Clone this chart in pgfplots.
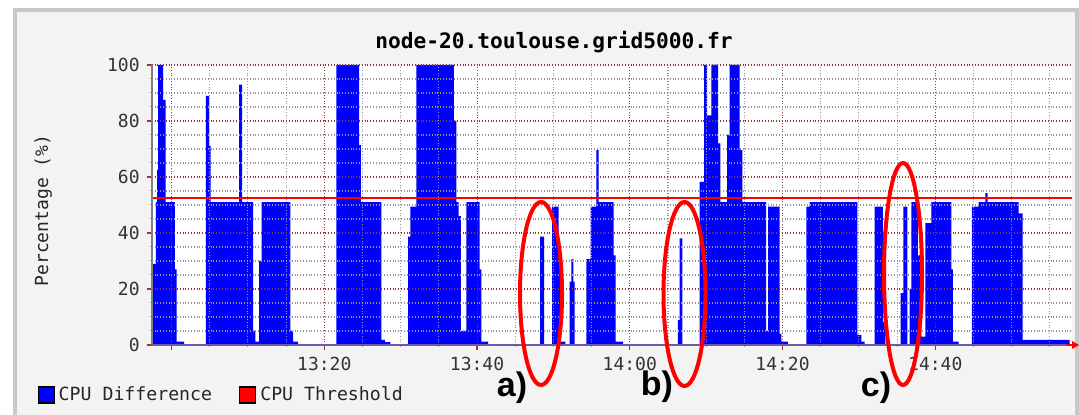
\documentclass[border=0pt]{standalone}
\usepackage{pgfplots}
\usepackage{pgfplotstable}
\pgfplotsset{compat=1.18}
\usepackage{fontspec}
\setmainfont{Liberation Sans}
\setmonofont{DejaVu Sans Mono}
\definecolor{bgframe}{RGB}{243,243,243}
\definecolor{frameline}{RGB}{200,200,200}
\definecolor{mgrid}{RGB}{150,55,55}
\definecolor{ngrid}{RGB}{150,150,150}
\definecolor{cpublue}{RGB}{0,0,255}
\definecolor{cpured}{RGB}{255,0,0}
\definecolor{xaxisc}{RGB}{110,90,170}

% minutes after 13:00, CPU difference (%)
\pgfplotstableread{
t v
-2.6 0
-2.53 29
-2.05 51
-1.88 62.5
-1.75 100
-1.10 87.5
-0.79 51
0.43 27
0.65 1.2
1.65 0
4.49 89
4.93 71
5.10 51
8.85 93
9.25 51
10.69 5
10.99 1.2
11.47 30
11.78 51
15.57 5
15.92 1.2
16.57 0
21.59 100
24.56 71.4
24.78 51
27.48 1.8
27.92 1
28.66 0
30.97 38.7
31.28 49.4
32.06 100
36.95 80
37.30 51
37.60 46
37.87 5
38.61 51
40.35 27
40.57 1.2
41.44 0
48.25 38.7
48.77 0
49.82 49.4
50.69 34.5
50.96 1.2
51.57 0
52.13 22.6
52.35 30.7
52.61 22.6
52.79 0
54.31 30.7
54.88 49.4
55.62 69.6
55.93 51
57.89 32
58.15 1.2
59.11 0
66.31 8.9
66.53 38.1
66.88 0
69.15 58.3
69.72 100
70.11 82
70.68 100
71.55 72
71.86 51
72.73 75
73.08 100
74.39 69.6
74.73 51
77.85 5
78.10 49.4
79.62 4
79.84 1.2
80.71 0
83.11 49.4
83.55 51
89.79 3.6
90.31 1.2
90.75 0
92.05 49.4
93.14 8.3
93.45 0
95.46 18.5
95.81 49.4
96.34 0
96.64 20
96.86 51
97.72 32
98.17 3
98.69 43.5
99.47 51
102.09 27
102.31 1.2
103.05 0
104.79 49.4
105.67 51
106.54 54.2
106.85 51
110.90 47
111.43 1.8
117.6 0
117.9 0
}\cpudiff

\pgfplotstableread{
t v
-2.6 52.5
117.9 52.5
}\cputhr

\begin{document}
\begin{tikzpicture}
\begin{scope}[x=0.5pt,y=0.5pt]
\useasboundingbox (0,0) rectangle (1079,415);
\fill[white] (0,0) rectangle (1079,415);
\fill[bgframe] (15,0) rectangle (1077,405);
\draw[frameline, line width=2pt] (15,-5) -- (15,405) -- (1077,405) -- (1077,-5);
\end{scope}
\begin{axis}[
  at={(75.85pt,35pt)}, anchor=south west,
  width=460.15pt, height=140pt, scale only axis,
  xmin=-2.6, xmax=117.9, ymin=0, ymax=100,
  axis on top,
  axis background/.style={fill=white},
  grid=both,
  major grid style={mgrid, densely dotted, line width=0.55pt},
  minor grid style={ngrid, densely dotted, line width=0.55pt},
  xtick={0,20,40,60,80,100},
  xticklabels={,13:20,13:40,14:00,14:20,14:40},
  minor xtick={5,10,15,25,30,35,45,50,55,65,70,75,85,90,95,105,110,115},
  ytick={0,20,40,60,80,100},
  minor ytick={5,10,15,25,30,35,45,50,55,65,70,75,85,90,95},
  tick align=outside,
  major tick length=2.5pt,
  minor tick length=1pt,
  major tick style={mgrid, line width=0.6pt},
  minor tick style={ngrid, line width=0.5pt},
  axis x line*=bottom, axis y line*=left,
  x axis line style={xaxisc, line width=0.6pt, -},
  y axis line style={gray, line width=0.8pt, -},
  ticklabel style={font=\ttfamily\fontsize{9}{10}\selectfont, text=black!80},
  /pgf/number format/assume math mode=true,
  ylabel={Percentage (\%)},
  ylabel style={font=\ttfamily\fontsize{9}{10}\selectfont, text=black!85, at={(axis description cs:-0.118,0.48)}, anchor=center, rotate=0},
  legend columns=2,
  legend cell align=left,
  legend style={at={(axis description cs:-0.1245,-0.1786)}, anchor=west, draw=none, fill=none, inner sep=0pt,
    font=\ttfamily\fontsize{9.1}{10}\selectfont, text=black!85,
    /tikz/every even column/.append style={column sep=11.5pt}},
]
\addplot[fill=cpublue, draw=none, const plot,
  legend image code/.code={\draw[fill=cpublue,draw=black,line width=0.6pt] (0pt,-4pt) rectangle (8pt,4pt);}]
  table[x=t,y=v]{\cpudiff} \closedcycle;
\addlegendentry{CPU Difference}
\addplot[cpured, line width=1pt,
  legend image code/.code={\draw[fill=cpured,draw=black,line width=0.6pt] (0pt,-4pt) rectangle (8pt,4pt);}]
  table[x=t,y=v]{\cputhr};
\addlegendentry{CPU Threshold}
\end{axis}
\begin{scope}[x=0.5pt,y=0.5pt]
\node[font=\ttfamily\bfseries\fontsize{10.6}{12}\selectfont] at (554,373) {node-20.toulouse.grid5000.fr};
\draw[cpured, line width=0.8pt] (1066,70) -- (1078,70);
\fill[cpured] (1072,66) -- (1079,70) -- (1072,74) -- cycle;
\draw[cpured, line width=2pt] (541,121.5) ellipse [x radius=21, y radius=91.5];
\draw[cpured, line width=2pt] (684.5,121) ellipse [x radius=21, y radius=92];
\draw[cpured, line width=2pt] (903,141) ellipse [x radius=19, y radius=111];
\node[font=\bfseries\fontsize{17}{20}\selectfont] at (512,27) {a)};
\node[font=\bfseries\fontsize{17}{20}\selectfont] at (657,28) {b)};
\node[font=\bfseries\fontsize{17}{20}\selectfont] at (876,27) {c)};
\end{scope}
\end{tikzpicture}
\end{document}
